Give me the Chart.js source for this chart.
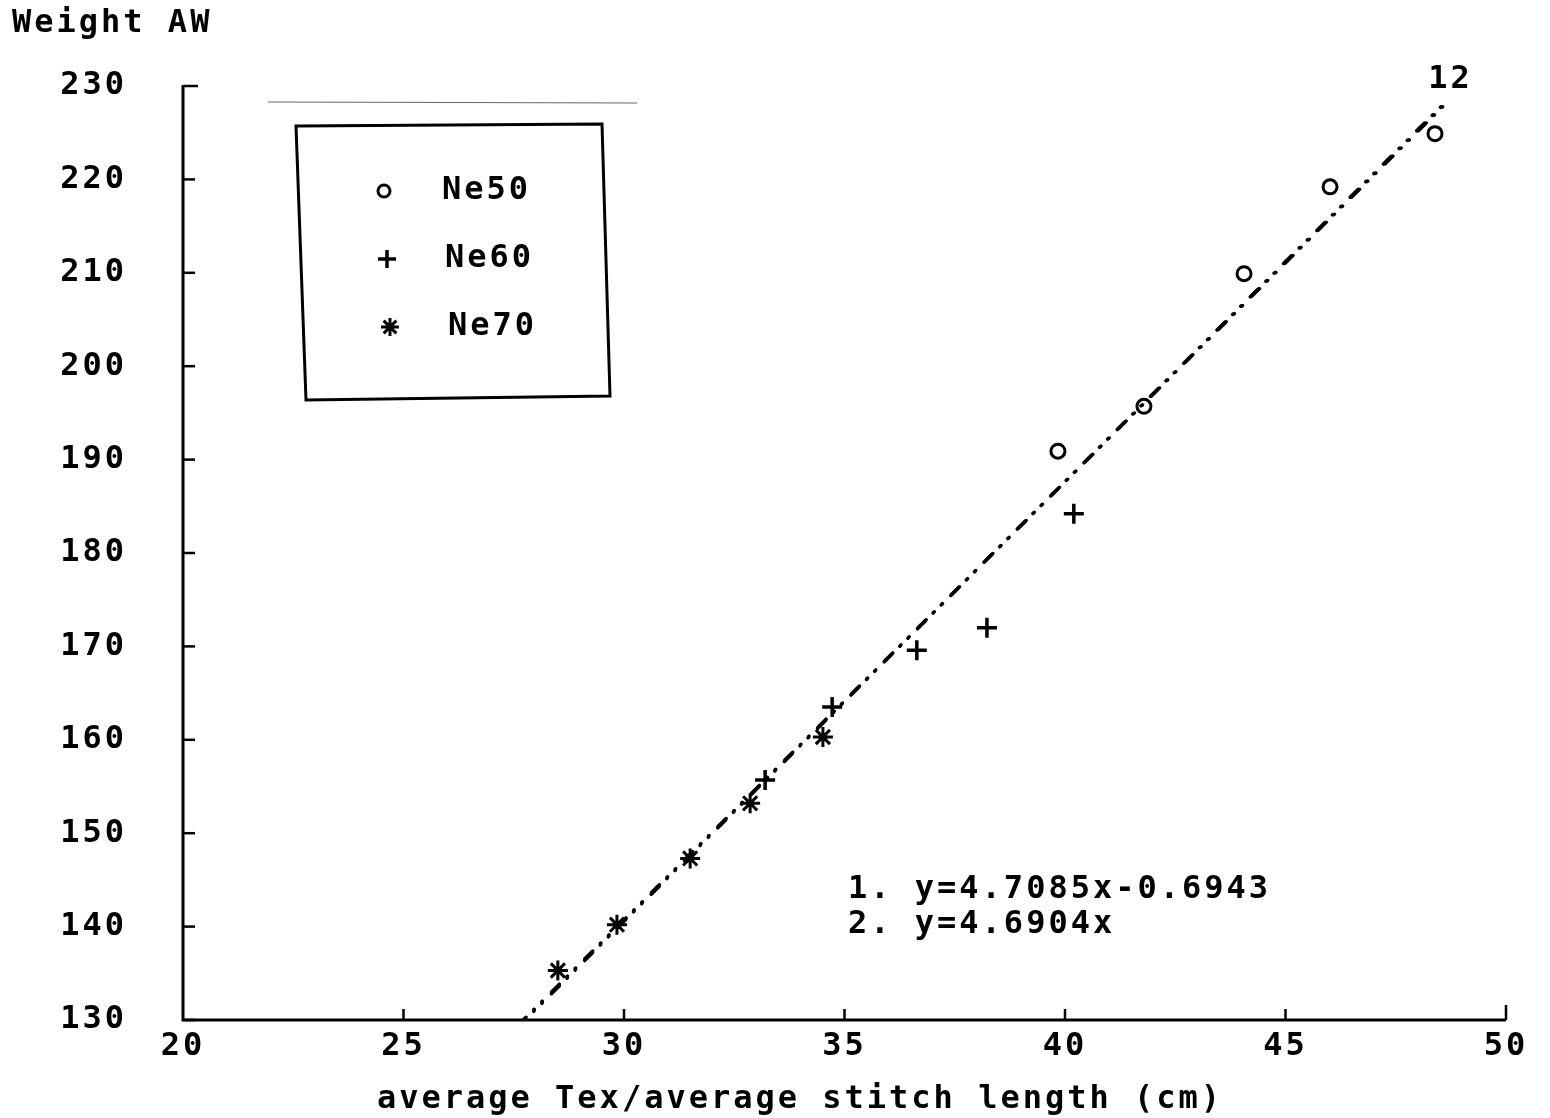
<!DOCTYPE html>
<html>
<head>
<meta charset="utf-8">
<title>Weight AW vs average Tex / stitch length</title>
<script src="https://cdn.jsdelivr.net/npm/chart.js@4.4.0/dist/chart.umd.min.js"></script>
<style>
  html, body { margin: 0; padding: 0; background: #fff; }
  canvas { display: block; }
</style>
</head>
<body>
<canvas id="weightChart" width="1550" height="1118"></canvas>
<script>
// measured points for each yarn count
const ne50X = [39.84, 41.79, 44.06, 46.01, 48.39];
const ne50Y = [190.9, 195.7, 209.9, 219.2, 224.9];
const ne60X = [33.2, 34.72, 36.64, 38.23, 40.2];
const ne60Y = [155.7, 163.5, 169.6, 172.0, 184.2];
const ne70X = [28.5, 29.84, 31.5, 32.86, 34.51];
const ne70Y = [135.3, 140.2, 147.3, 153.2, 160.3];

// fitted lines: y = slope * x + intercept
const fitNames = ['1', '2'];
const fitSlopes = [4.7085, 4.6904];
const fitIntercepts = [-0.6943, 0];
const fitLabels = ['1. y=4.7085x-0.6943', '2. y=4.6904x'];
const fitRange = [27.6, 48.6];

const xTicks = [20, 25, 30, 35, 40, 45, 50];
const yTicks = [130, 140, 150, 160, 170, 180, 190, 200, 210, 220, 230];
const seriesNames = ['Ne50', 'Ne60', 'Ne70'];

const FONT = '"DejaVu Sans Mono", "Liberation Mono", monospace';
const SPACING = '3px';

const toPoints = (xs, ys) => xs.map((x, i) => ({ x: x, y: ys[i] }));

const fitDatasets = fitSlopes.map((m, i) => ({
    label: 'fit ' + fitNames[i],
    data: fitRange.map(x => ({ x: x, y: m * x + fitIntercepts[i] })),
    showLine: true,
    borderColor: '#000',
    borderWidth: 3.5,
    borderDash: [11, 11, 0.5, 11, 0.5, 13],
    borderCapStyle: 'round',
    pointRadius: 0,
    fill: false
}));

const markerStyles = [
    { pointStyle: 'circle', radius: 7, width: 3 },
    { pointStyle: 'cross', radius: 10, width: 3.5 },
    { pointStyle: 'star', radius: 10, width: 3 }
];

const seriesData = [toPoints(ne50X, ne50Y), toPoints(ne60X, ne60Y), toPoints(ne70X, ne70Y)];

const markerDatasets = seriesData.map((pts, i) => ({
    label: seriesNames[i],
    data: pts,
    showLine: false,
    pointStyle: markerStyles[i].pointStyle,
    pointRadius: markerStyles[i].radius,
    pointBorderWidth: markerStyles[i].width,
    pointBorderColor: '#000',
    pointBackgroundColor: 'rgba(0,0,0,0)'
}));

// canvas letter spacing gives the wide plotter-style text
const spacingPlugin = {
    id: 'spacing',
    beforeUpdate(chart) { chart.ctx.letterSpacing = SPACING; },
    beforeLayout(chart) { chart.ctx.letterSpacing = SPACING; },
    beforeDraw(chart) { chart.ctx.letterSpacing = SPACING; }
};

// axes with inward tick marks, legend box and annotations
const decorPlugin = {
    id: 'decor',
    afterDraw(chart) {
        const ctx = chart.ctx;
        const xs = chart.scales.x;
        const ys = chart.scales.y;
        const left = chart.chartArea.left;
        const bottom = chart.chartArea.bottom;
        const top = chart.chartArea.top;
        const right = chart.chartArea.right;

        ctx.save();
        ctx.letterSpacing = SPACING;
        ctx.strokeStyle = '#000';
        ctx.fillStyle = '#000';
        ctx.lineWidth = 3;
        ctx.lineCap = 'butt';

        // axis lines
        ctx.beginPath();
        ctx.moveTo(left, top - 1);
        ctx.lineTo(left, bottom);
        ctx.lineTo(right, bottom);
        ctx.stroke();

        ctx.lineWidth = 2.5;
        yTicks.forEach(v => {
            const py = ys.getPixelForValue(v);
            ctx.beginPath();
            ctx.moveTo(left, py);
            ctx.lineTo(left + (v === yTicks[yTicks.length - 1] ? 15 : 12), py);
            ctx.stroke();
        });
        xTicks.forEach(v => {
            if (v === xTicks[0]) return;
            const px = xs.getPixelForValue(v);
            ctx.beginPath();
            ctx.moveTo(px, bottom);
            ctx.lineTo(px, bottom - (v === xTicks[xTicks.length - 1] ? 15 : 11));
            ctx.stroke();
        });

        // titles
        ctx.font = 'bold 32px ' + FONT;
        ctx.textBaseline = 'middle';
        ctx.textAlign = 'left';
        ctx.fillText('Weight AW', 12, 24);
        ctx.textAlign = 'center';
        ctx.fillText('average Tex/average stitch length (cm)', 800, 1100);

        // thin rule above the legend
        ctx.lineWidth = 1.2;
        ctx.strokeStyle = '#666';
        ctx.beginPath();
        ctx.moveTo(268, 102);
        ctx.lineTo(637, 103);
        ctx.stroke();

        // legend frame
        ctx.strokeStyle = '#000';
        ctx.lineWidth = 3;
        ctx.beginPath();
        ctx.moveTo(296, 126);
        ctx.lineTo(602, 124);
        ctx.lineTo(610, 396);
        ctx.lineTo(306, 400);
        ctx.closePath();
        ctx.stroke();

        const rowY = [191, 259, 327];
        ctx.textAlign = 'left';
        seriesNames.forEach((name, i) => {
            const st = markerStyles[i];
            ctx.lineWidth = st.width;
            ctx.fillStyle = 'rgba(0,0,0,0)';
            Chart.helpers.drawPoint(ctx, {
                pointStyle: st.pointStyle,
                radius: i === 0 ? 6 : 9,
                borderWidth: st.width,
                rotation: 0
            }, 384 + i * 3, rowY[i]);
            ctx.fillStyle = '#000';
            ctx.fillText(name, 442 + i * 3, rowY[i]);
        });

        // fit equations
        ctx.fillText(fitLabels[0], 848, 890);
        ctx.fillText(fitLabels[1], 848, 925);

        // line numbers at the top end of the fits
        const endX = xs.getPixelForValue(fitRange[1]);
        const endY = ys.getPixelForValue(fitSlopes[0] * fitRange[1] + fitIntercepts[0]);
        ctx.fillText(fitNames.join(''), endX - 16, endY - 24);

        ctx.restore();
    }
};

new Chart(document.getElementById('weightChart'), {
    type: 'scatter',
    data: { datasets: fitDatasets.concat(markerDatasets) },
    plugins: [spacingPlugin, decorPlugin],
    options: {
        responsive: false,
        animation: false,
        devicePixelRatio: 1,
        layout: { padding: { left: 0, top: 86, right: 44, bottom: 0 } },
        plugins: {
            legend: { display: false },
            tooltip: { enabled: false }
        },
        scales: {
            x: {
                type: 'linear',
                min: xTicks[0],
                max: xTicks[xTicks.length - 1],
                afterBuildTicks: s => { s.ticks = xTicks.map(v => ({ value: v })); },
                afterFit: s => { s.height = 98; },
                grid: { display: false, drawTicks: false },
                border: { display: false },
                ticks: {
                    color: '#000',
                    padding: 7,
                    maxRotation: 0,
                    font: { family: FONT, size: 32, weight: 'bold' }
                }
            },
            y: {
                type: 'linear',
                min: yTicks[0],
                max: yTicks[yTicks.length - 1],
                afterBuildTicks: s => { s.ticks = yTicks.map(v => ({ value: v })); },
                afterFit: s => { s.width = 183; },
                grid: { display: false, drawTicks: false },
                border: { display: false },
                ticks: {
                    color: '#000',
                    padding: 56,
                    font: { family: FONT, size: 32, weight: 'bold' }
                }
            }
        }
    }
});
</script>
</body>
</html>
